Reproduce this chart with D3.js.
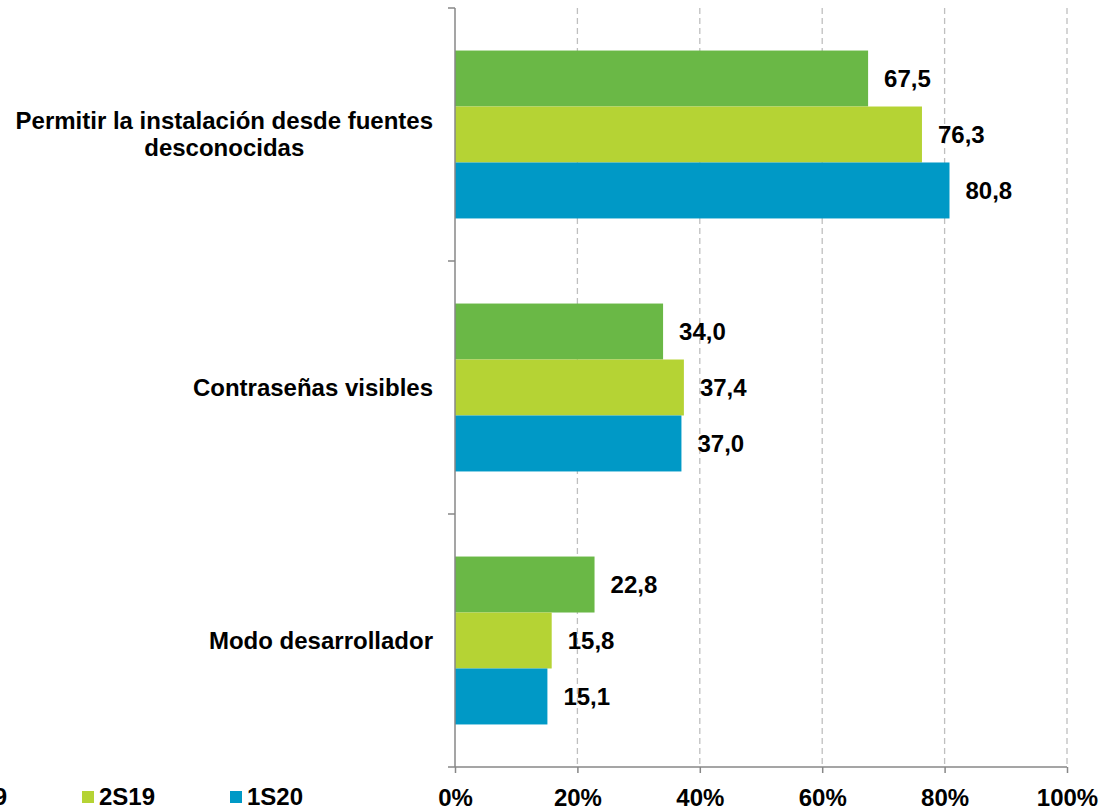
<!DOCTYPE html>
<html><head><meta charset="utf-8">
<script src="https://cdn.jsdelivr.net/npm/d3@7"></script>
<style>body{margin:0;background:#fff}svg{display:block}text{font-family:"Liberation Sans",Arial,sans-serif;font-weight:bold;fill:#000}</style>
</head><body><svg id="c" width="1119" height="812"></svg>
<script>
const categories = [["Permitir la instalación desde fuentes","desconocidas"],["Contraseñas visibles"],["Modo desarrollador"]];
const seriesNames = ["1S19","2S19","1S20"];
const seriesColors = ["#6AB846","#B5D334","#0099C6"];
const values1S19 = [67.5, 34.0, 22.8];
const values2S19 = [76.3, 37.4, 15.8];
const values1S20 = [80.8, 37.0, 15.1];
const xTicks = [0,20,40,60,80,100];

(function(){
const FS = 24;
const series = [values1S19, values2S19, values1S20];
const svg = d3.select("#c");
const pL = 455, pR = 1067, pT = 8, pB = 767;
const x = d3.scaleLinear().domain([0,100]).range([pL,pR]);
const y = d3.scaleBand().domain(d3.range(categories.length)).range([pT,pB]).paddingInner(0).paddingOuter(0);
const inner = d3.scaleBand().domain(d3.range(series.length)).range([0,y.bandwidth()]).paddingInner(0).paddingOuter(0.76);

// grid
svg.append("g").selectAll("line").data(xTicks.slice(1)).join("line")
  .attr("x1",d=>x(d)).attr("x2",d=>x(d)).attr("y1",pT).attr("y2",pB)
  .attr("stroke","#BFBFBF").attr("stroke-width",1.3).attr("stroke-dasharray","6,4");

// bars
series.forEach((vals,si)=>{
  const g = svg.append("g");
  g.selectAll("rect").data(vals).join("rect")
    .attr("x",x(0)).attr("y",(d,i)=>y(i)+inner(si)).attr("width",d=>x(d)-x(0)).attr("height",inner.bandwidth())
    .attr("fill",seriesColors[si]);
  g.selectAll("text").data(vals).join("text")
    .attr("x",d=>x(d)+16).attr("y",(d,i)=>y(i)+inner(si)+inner.bandwidth()/2).attr("dy","0.35em")
    .attr("font-size",FS).text(d=>d.toFixed(1).replace(".",","));
});

// axes
const xAxis = d3.axisBottom(x).tickValues(xTicks).tickFormat(d=>d+"%").tickSize(6).tickSizeOuter(0);
const ax = svg.append("g").attr("transform",`translate(0,${pB})`).call(xAxis);
ax.select(".domain").attr("stroke","#878787").attr("stroke-width",1.5).attr("d",`M${pL-7},0H${pR}`);
ax.selectAll(".tick line").attr("stroke","#878787").attr("stroke-width",1.5);
ax.selectAll(".tick text").attr("font-size",FS).attr("font-family","Liberation Sans, Arial").attr("font-weight","bold").attr("fill","#000").attr("y",22);

const yTicks = d3.range(categories.length).map(i=> y(i));
svg.append("line").attr("x1",pL).attr("x2",pL).attr("y1",pT).attr("y2",pB).attr("stroke","#878787").attr("stroke-width",1.5);
svg.append("g").selectAll("line").data(yTicks).join("line")
  .attr("x1",pL-7).attr("x2",pL).attr("y1",d=>d).attr("y2",d=>d).attr("stroke","#878787").attr("stroke-width",1.5);

// category labels
categories.forEach((lines,i)=>{
  const cy = y(i)+y.bandwidth()/2;
  const g = svg.append("g");
  const lh = 27;
  const t = lines.map((ln,j)=> g.append("text").attr("font-size",FS).attr("y",cy+(j-(lines.length-1)/2)*lh).attr("dy","0.35em").text(ln));
  const widths = t.map(n=>n.node().getComputedTextLength());
  const maxW = Math.max(...widths);
  const rightEdge = 433;
  t.forEach((n,j)=> n.attr("text-anchor","middle").attr("x", rightEdge - maxW/2));
});

// legend
const leg = svg.append("g");
seriesNames.forEach((n,i)=>{
  const lx = -66 + i*148;
  leg.append("rect").attr("x",lx).attr("y",791).attr("width",12).attr("height",12).attr("fill",seriesColors[i]);
  leg.append("text").attr("x",lx+17).attr("y",797).attr("dy","0.35em").attr("font-size",FS).text(n);
});
})();
</script></body></html>
